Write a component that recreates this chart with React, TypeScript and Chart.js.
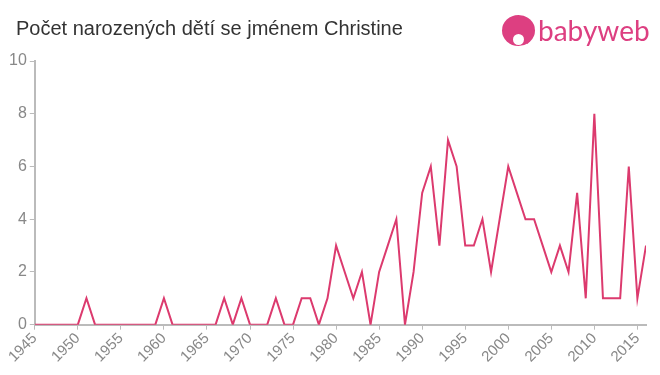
import React, { useEffect, useRef } from "react";
import { Chart, registerables } from "chart.js";

Chart.register(...registerables);

const years = [
  1945, 1946, 1947, 1948, 1949, 1950, 1951, 1952, 1953, 1954, 1955, 1956,
  1957, 1958, 1959, 1960, 1961, 1962, 1963, 1964, 1965, 1966, 1967, 1968,
  1969, 1970, 1971, 1972, 1973, 1974, 1975, 1976, 1977, 1978, 1979, 1980,
  1981, 1982, 1983, 1984, 1985, 1986, 1987, 1988, 1989, 1990, 1991, 1992,
  1993, 1994, 1995, 1996, 1997, 1998, 1999, 2000, 2001, 2002, 2003, 2004,
  2005, 2006, 2007, 2008, 2009, 2010, 2011, 2012, 2013, 2014, 2015, 2016,
];

const births = [
  0, 0, 0, 0, 0, 0, 1, 0, 0, 0, 0, 0,
  0, 0, 0, 1, 0, 0, 0, 0, 0, 0, 1, 0,
  1, 0, 0, 0, 1, 0, 0, 1, 1, 0, 1, 3,
  2, 1, 2, 0, 2, 3, 4, 0, 2, 5, 6, 3,
  7, 6, 3, 3, 4, 2, 4, 6, 5, 4, 4, 3,
  2, 3, 2, 5, 1, 8, 1, 1, 1, 6, 1, 3,
];

const title = "Počet narozených dětí se jménem Christine";

export default function App() {
  const ref = useRef<HTMLCanvasElement | null>(null);

  useEffect(() => {
    if (!ref.current) return;
    const chart = new Chart(ref.current, {
      type: "line",
      data: {
        datasets: [
          {
            data: years.map((y, i) => ({ x: y, y: births[i] })),
            borderColor: "#dc3a6e",
            borderWidth: 2,
            pointRadius: 0,
            tension: 0,
            fill: false,
          },
        ],
      },
      options: {
        animation: false,
        responsive: false,
        maintainAspectRatio: false,
        layout: { padding: { top: 61, right: 14, left: 6, bottom: 9 } },
        plugins: { legend: { display: false }, tooltip: { enabled: false } },
        scales: {
          x: {
            type: "linear",
            min: 1945,
            max: 2016,
            grid: { drawOnChartArea: false, drawTicks: true, tickLength: 5, color: "#bbb" },
            border: { display: true, color: "#bbb", width: 2 },
            ticks: {
              stepSize: 5,
              includeBounds: false,
              maxRotation: 45,
              minRotation: 45,
              color: "#888",
              font: { size: 15, family: "Liberation Sans, Arial, sans-serif" },
              callback: (v: any) => String(v),
              padding: 0,
            },
          },
          y: {
            min: 0,
            max: 10,
            grid: { drawOnChartArea: false, drawTicks: true, tickLength: 5, color: "#bbb" },
            border: { display: true, color: "#bbb", width: 2 },
            ticks: {
              stepSize: 2,
              color: "#888",
              font: { size: 16, family: "Liberation Sans, Arial, sans-serif" },
              padding: 3,
            },
          },
        },
      },
    });
    return () => chart.destroy();
  }, []);

  return (
    <div
      style={{
        position: "fixed",
        left: 0,
        top: 0,
        width: 660,
        height: 375,
        background: "#fff",
        fontFamily: "Liberation Sans, Arial, sans-serif",
      }}
    >
      <canvas ref={ref} width={660} height={375} style={{ position: "absolute", left: 0, top: 0 }} />
      <div
        style={{
          position: "absolute",
          left: 16,
          top: 17,
          fontSize: 20,
          lineHeight: "23px",
          color: "#333",
          whiteSpace: "nowrap",
        }}
      >
        {title}
      </div>
      <div
        style={{
          position: "absolute",
          left: 502,
          top: 15,
          width: 33,
          height: 31,
          borderRadius: "50%",
          background: "#dd3f81",
        }}
      >
        <div
          style={{
            position: "absolute",
            left: 11,
            top: 19,
            width: 11,
            height: 11,
            borderRadius: "50%",
            background: "#fff",
          }}
        />
      </div>
      <div
        style={{
          position: "absolute",
          left: 538,
          top: 13,
          fontSize: 28,
          color: "#dd3f81",
          fontFamily: "Lato, Liberation Sans, sans-serif",
          letterSpacing: 0,
          whiteSpace: "nowrap",
        }}
      >
        babyweb
      </div>
    </div>
  );
}
